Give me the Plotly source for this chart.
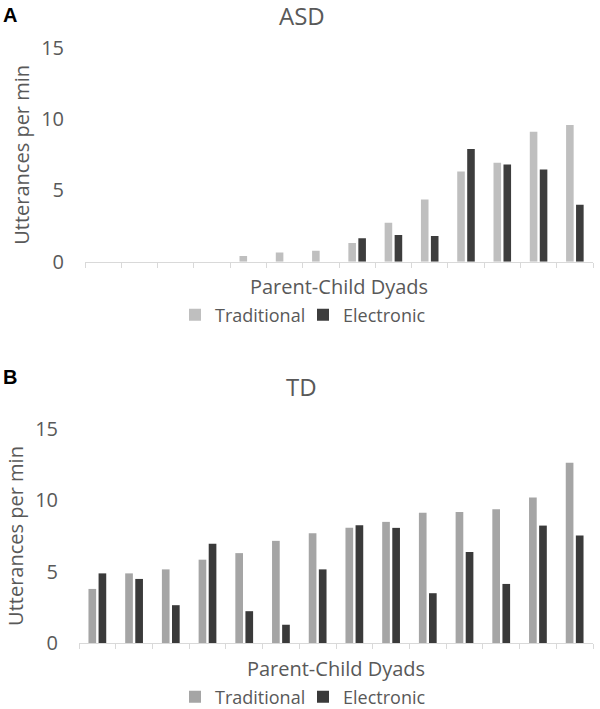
import plotly.graph_objects as go

# ---- data ----
dyads = [str(i) for i in range(1, 15)]
asd_traditional = [0, 0, 0, 0, 0.40, 0.64, 0.76, 1.32, 2.74, 4.37, 6.33, 6.95, 9.13, 9.60]
asd_electronic = [0, 0, 0, 0, 0, 0, 0, 1.65, 1.87, 1.80, 7.91, 6.83, 6.48, 4.00]
td_traditional = [3.79, 4.88, 5.16, 5.84, 6.30, 7.16, 7.70, 8.07, 8.49, 9.13, 9.18, 9.37, 10.19, 12.64]
td_electronic = [4.88, 4.49, 2.65, 6.95, 2.23, 1.28, 5.16, 8.26, 8.07, 3.49, 6.38, 4.14, 8.23, 7.53]
y_ticks = [0, 5, 10, 15]
series_names = ["Traditional", "Electronic"]

TXT = "#595959"
AX = "#d9d9d9"
FONT = "Open Sans"

fig = go.Figure()
fig.add_trace(go.Bar(x=dyads, y=asd_traditional, name=series_names[0],
                     marker=dict(color="#bfbfbf", line=dict(width=0)),
                     xaxis="x", yaxis="y", legend="legend"))
fig.add_trace(go.Bar(x=dyads, y=asd_electronic, name=series_names[1],
                     marker=dict(color="#3d3d3d", line=dict(width=0)),
                     xaxis="x", yaxis="y", legend="legend"))
fig.add_trace(go.Bar(x=dyads, y=td_traditional, name=series_names[0],
                     marker=dict(color="#a5a5a5", line=dict(width=0)),
                     xaxis="x2", yaxis="y2", legend="legend2"))
fig.add_trace(go.Bar(x=dyads, y=td_electronic, name=series_names[1],
                     marker=dict(color="#3a3a3a", line=dict(width=0)),
                     xaxis="x2", yaxis="y2", legend="legend2"))

H = 709.0
W = 600.0
def py(p):
    return 1 - p / H

n = len(dyads)
bounds = [i - 0.5 for i in range(n + 1)]

xcommon = dict(type="category", categoryorder="array", categoryarray=dyads,
               range=[-0.5, n - 0.5], showticklabels=False, showgrid=False,
               zeroline=False, showline=True, linecolor=AX, linewidth=1,
               ticks="outside", tickson="boundaries", ticklen=5, tickcolor=AX,
               tickwidth=1, automargin=False,
               title=dict(text="Parent-Child Dyads", font=dict(size=20, color=TXT, family=FONT),
                          standoff=18))
ycommon = dict(range=[0, 15], tickvals=y_ticks, showgrid=False, zeroline=False,
               showline=False, ticks="", ticklabelstandoff=20, automargin=False,
               tickfont=dict(size=20, color=TXT, family=FONT),
               title=dict(text="Utterances per min", font=dict(size=20, color=TXT, family=FONT),
                          standoff=6))
inner = dict(range=[-0.5, n - 0.5], tickmode="array", tickvals=bounds,
             showticklabels=False, showgrid=False, zeroline=False, showline=False,
             ticks="inside", ticklen=5, tickcolor=AX, tickwidth=1, automargin=False)

legend_common = dict(orientation="h", x=175 / W, xanchor="left", yanchor="middle",
                     font=dict(size=18, color=TXT, family=FONT), bgcolor="rgba(0,0,0,0)",
                     itemwidth=30, entrywidth=83, traceorder="normal")

fig.update_layout(
    width=600, height=709,
    margin=dict(l=0, r=0, t=0, b=0, autoexpand=False),
    paper_bgcolor="white", plot_bgcolor="white",
    font=dict(family=FONT, color=TXT),
    barmode="group", bargap=0.45, bargroupgap=0.24,
    xaxis=dict(domain=[85 / W, 593 / W], anchor="y", **xcommon),
    yaxis=dict(domain=[py(261.7), py(48)], anchor="x", **ycommon),
    xaxis2=dict(domain=[79 / W, 593 / W], anchor="y2", **xcommon),
    yaxis2=dict(domain=[py(643), py(429)], anchor="x2", **ycommon),
    xaxis3=dict(overlaying="x", anchor="y", **inner),
    xaxis4=dict(overlaying="x2", anchor="y2", **inner),
    legend=dict(y=py(315), **legend_common),
    legend2=dict(y=py(697), **legend_common),
    showlegend=True,
    annotations=[
        dict(text="ASD", x=302 / W, y=py(16), xref="paper", yref="paper",
             xanchor="center", yanchor="middle", showarrow=False,
             font=dict(size=24, color=TXT, family=FONT)),
        dict(text="TD", x=301.5 / W, y=py(386), xref="paper", yref="paper",
             xanchor="center", yanchor="middle", showarrow=False,
             font=dict(size=24, color=TXT, family=FONT)),
        dict(text="<b>A</b>", x=1 / W, y=py(15), xref="paper", yref="paper",
             xanchor="left", yanchor="middle", showarrow=False,
             font=dict(size=20, color="black", family="Liberation Sans")),
        dict(text="<b>B</b>", x=1 / W, y=py(377), xref="paper", yref="paper",
             xanchor="left", yanchor="middle", showarrow=False,
             font=dict(size=20, color="black", family="Liberation Sans")),
    ],
)

fig.write_html("out.html", config={"displayModeBar": False},
               post_script="document.body.style.margin='0';")
